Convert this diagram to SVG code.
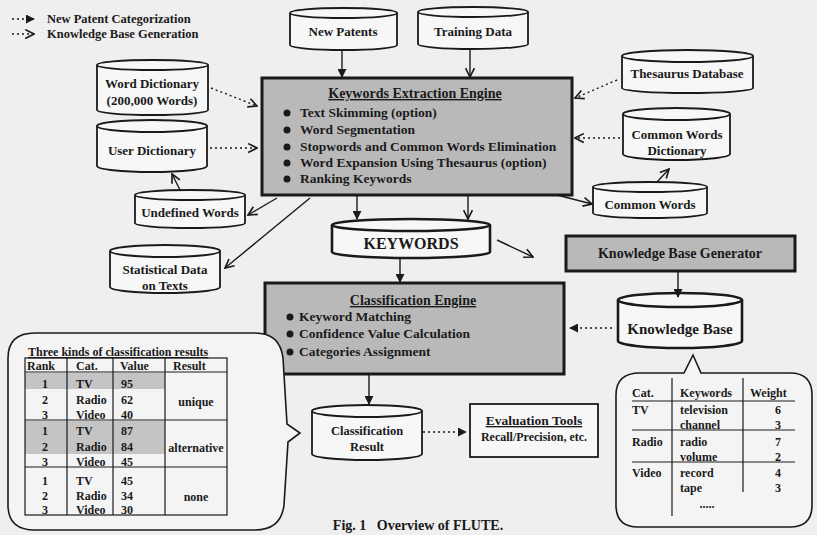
<svg xmlns="http://www.w3.org/2000/svg" width="817" height="535" viewBox="0 0 817 535">
<defs>
<style>
text{font-family:"Liberation Serif","Times New Roman",serif;font-weight:bold;fill:#1a1a1a}
.cyl{fill:#f7f7f7;stroke:#1a1a1a;stroke-width:1.8}
.cylf{fill:none;stroke:#1a1a1a;stroke-width:1.8}
.eng{fill:#b9b9b9;stroke:#1a1a1a;stroke-width:3}
.ln{fill:none;stroke:#1a1a1a;stroke-width:1.4}
.dot{fill:none;stroke:#1a1a1a;stroke-width:1.4;stroke-dasharray:2,3}
.tl{fill:none;stroke:#1a1a1a;stroke-width:1.2}
.c{text-anchor:middle}
.lbl{font-size:13px}
.bul{font-size:13.5px}
.tb{font-size:12px}
</style>
<marker id="af" viewBox="0 0 10 10" refX="9" refY="5" markerWidth="9" markerHeight="9" markerUnits="userSpaceOnUse" orient="auto"><path d="M0,0 L10,5 L0,10 z" fill="#1a1a1a"/></marker>
<marker id="ao" viewBox="0 0 10 10" refX="9" refY="5" markerWidth="11" markerHeight="11" markerUnits="userSpaceOnUse" orient="auto"><path d="M1,1 L9,5 L1,9" fill="none" stroke="#1a1a1a" stroke-width="1.5"/></marker>
</defs>
<rect x="0" y="0" width="817" height="535" fill="#efefef"/>

<g id="legend">
<line class="dot" x1="12" y1="19" x2="34" y2="19" marker-end="url(#af)"/>
<text x="47" y="23" style="font-size:12.5px">New Patent Categorization</text>
<line class="dot" x1="12" y1="34" x2="34" y2="34" marker-end="url(#ao)"/>
<text x="47" y="38" style="font-size:12.5px">Knowledge Base Generation</text>
</g>

<g id="new-patents">
<path class="cyl" d="M290,13 A53.5,5 0 0 1 397,13 V45 A53.5,5 0 0 1 290,45 Z"/>
<path class="cylf" d="M290,13 A53.5,5 0 0 0 397,13"/>
<text class="c lbl" x="343" y="36">New Patents</text>
</g>
<g id="training-data">
<path class="cyl" d="M418,12 A55,5 0 0 1 528,12 V44 A55,5 0 0 1 418,44 Z"/>
<path class="cylf" d="M418,12 A55,5 0 0 0 528,12"/>
<text class="c lbl" x="473" y="36">Training Data</text>
</g>

<g id="word-dictionary">
<path class="cyl" d="M97,65 A55.5,5 0 0 1 208,65 V110 A55.5,5 0 0 1 97,110 Z"/>
<path class="cylf" d="M97,65 A55.5,5 0 0 0 208,65"/>
<text class="c lbl" x="152" y="88">Word Dictionary</text>
<text class="c lbl" x="152" y="105">(200,000 Words)</text>
</g>
<g id="user-dictionary">
<path class="cyl" d="M97,126 A55,6 0 0 1 207,126 V166 A55,6 0 0 1 97,166 Z"/>
<path class="cylf" d="M97,126 A55,6 0 0 0 207,126"/>
<text class="c lbl" x="152" y="155">User Dictionary</text>
</g>
<g id="undefined-words">
<path class="cyl" d="M135,195 A55,5 0 0 1 245,195 V223 A55,5 0 0 1 135,223 Z"/>
<path class="cylf" d="M135,195 A55,5 0 0 0 245,195"/>
<text class="c lbl" x="190" y="217">Undefined Words</text>
</g>
<g id="statistical-data">
<path class="cyl" d="M110,251 A55,6 0 0 1 220,251 V287 A55,6 0 0 1 110,287 Z"/>
<path class="cylf" d="M110,251 A55,6 0 0 0 220,251"/>
<text class="c lbl" x="165" y="274">Statistical Data</text>
<text class="c lbl" x="165" y="290">on Texts</text>
</g>

<g id="thesaurus-database">
<path class="cyl" d="M622,56 A65.5,6 0 0 1 753,56 V88 A65.5,5 0 0 1 622,88 Z"/>
<path class="cylf" d="M622,56 A65.5,6 0 0 0 753,56"/>
<text class="c lbl" x="687" y="78">Thesaurus Database</text>
</g>
<g id="common-words-dictionary">
<path class="cyl" d="M623,114 A53.5,6 0 0 1 730,114 V154 A53.5,6 0 0 1 623,154 Z"/>
<path class="cylf" d="M623,114 A53.5,6 0 0 0 730,114"/>
<text class="c lbl" x="677" y="139">Common Words</text>
<text class="c lbl" x="677" y="155">Dictionary</text>
</g>
<g id="common-words">
<path class="cyl" d="M593,187 A57,5 0 0 1 707,187 V213 A57,5 0 0 1 593,213 Z"/>
<path class="cylf" d="M593,187 A57,5 0 0 0 707,187"/>
<text class="c lbl" x="650" y="209">Common Words</text>
</g>

<g id="keywords-extraction-engine">
<rect class="eng" x="262" y="78" width="310" height="117"/>
<text class="c" x="415" y="98" style="font-size:14px;text-decoration:underline">Keywords Extraction Engine</text>
<circle cx="287" cy="113" r="3.5" fill="#1a1a1a"/>
<circle cx="287" cy="130" r="3.5" fill="#1a1a1a"/>
<circle cx="287" cy="147" r="3.5" fill="#1a1a1a"/>
<circle cx="287" cy="163" r="3.5" fill="#1a1a1a"/>
<circle cx="287" cy="179" r="3.5" fill="#1a1a1a"/>
<text class="bul" x="300" y="117">Text Skimming (option)</text>
<text class="bul" x="300" y="134">Word Segmentation</text>
<text class="bul" x="300" y="151">Stopwords and Common Words Elimination</text>
<text class="bul" x="300" y="167">Word Expansion Using Thesaurus (option)</text>
<text class="bul" x="300" y="183">Ranking Keywords</text>
</g>

<g id="keywords">
<path class="cyl" style="stroke-width:2.6" d="M332,225 A79,6 0 0 1 490,225 V252 A79,6 0 0 1 332,252 Z"/>
<path class="cylf" style="stroke-width:2.6" d="M332,225 A79,6 0 0 0 490,225"/>
<text class="c" x="411" y="249" style="font-size:16px">KEYWORDS</text>
</g>

<g id="knowledge-base-generator">
<rect class="eng" x="566" y="236" width="229" height="35"/>
<text class="c" x="680" y="258" style="font-size:14px">Knowledge Base Generator</text>
</g>

<g id="classification-engine">
<rect class="eng" x="265" y="283" width="299" height="91"/>
<text class="c" x="413" y="305" style="font-size:14px;text-decoration:underline">Classification Engine</text>
<circle cx="290" cy="317" r="3.5" fill="#1a1a1a"/>
<circle cx="290" cy="334" r="3.5" fill="#1a1a1a"/>
<circle cx="290" cy="352" r="3.5" fill="#1a1a1a"/>
<text class="bul" x="299" y="321">Keyword Matching</text>
<text class="bul" x="299" y="338">Confidence Value Calculation</text>
<text class="bul" x="299" y="356">Categories Assignment</text>
</g>

<g id="knowledge-base">
<path class="cyl" style="stroke-width:2.6" d="M618,300 A62,7 0 0 1 742,300 V341 A62,7 0 0 1 618,341 Z"/>
<path class="cylf" style="stroke-width:2.6" d="M618,300 A62,7 0 0 0 742,300"/>
<text class="c" x="680" y="334" style="font-size:15px">Knowledge Base</text>
</g>

<g id="classification-result">
<path class="cyl" d="M312,411 A55,6 0 0 1 422,411 V454 A55,6 0 0 1 312,454 Z"/>
<path class="cylf" d="M312,411 A55,6 0 0 0 422,411"/>
<text class="c" x="367" y="435" style="font-size:12.5px">Classification</text>
<text class="c" x="367" y="451" style="font-size:12.5px">Result</text>
</g>

<g id="evaluation-tools">
<rect x="470" y="404" width="128" height="53" fill="#f7f7f7" stroke="#1a1a1a" stroke-width="1.8"/>
<text class="c" x="534" y="425" style="font-size:13.5px;text-decoration:underline">Evaluation Tools</text>
<text class="c" x="534" y="441" style="font-size:12px">Recall/Precision, etc.</text>
</g>

<g id="classification-results-callout">
<path fill="#f4f4f4" stroke="#1a1a1a" stroke-width="1.6" d="M35,333 H255 Q280,333 283,358 L287,424 L300,433 L288,442 L284,505 Q281,530 255,530 H35 Q8,530 8,505 V358 Q8,333 35,333 Z"/>
<text class="tb" x="28" y="356" style="text-decoration:underline">Three kinds of classification results</text>
<rect x="25" y="373" width="140" height="16" fill="#c4c4c4"/>
<rect x="25" y="421" width="140" height="33" fill="#c4c4c4"/>
<rect class="tl" x="25" y="358" width="202" height="157"/>
<line class="tl" x1="67" y1="358" x2="67" y2="515"/>
<line class="tl" x1="113" y1="358" x2="113" y2="515"/>
<line class="tl" x1="165" y1="358" x2="165" y2="515"/>
<line class="tl" x1="25" y1="372" x2="227" y2="372"/>
<line class="tl" x1="25" y1="420" x2="227" y2="420"/>
<line class="tl" x1="25" y1="467" x2="227" y2="467"/>
<text class="tb" x="27" y="370">Rank</text>
<text class="tb" x="76" y="370">Cat.</text>
<text class="tb" x="120" y="370">Value</text>
<text class="tb" x="173" y="370">Result</text>
<g class="tb">
<text class="tb c" x="45" y="388">1</text><text class="tb" x="76" y="388">TV</text><text class="tb" x="121" y="388">95</text>
<text class="tb c" x="45" y="404">2</text><text class="tb" x="76" y="404">Radio</text><text class="tb" x="121" y="404">62</text>
<text class="tb c" x="45" y="419">3</text><text class="tb" x="76" y="419">Video</text><text class="tb" x="121" y="419">40</text>
<text class="tb c" x="45" y="435">1</text><text class="tb" x="76" y="435">TV</text><text class="tb" x="121" y="435">87</text>
<text class="tb c" x="45" y="451">2</text><text class="tb" x="76" y="451">Radio</text><text class="tb" x="121" y="451">84</text>
<text class="tb c" x="45" y="466">3</text><text class="tb" x="76" y="466">Video</text><text class="tb" x="121" y="466">45</text>
<text class="tb c" x="45" y="485">1</text><text class="tb" x="76" y="485">TV</text><text class="tb" x="121" y="485">45</text>
<text class="tb c" x="45" y="500">2</text><text class="tb" x="76" y="500">Radio</text><text class="tb" x="121" y="500">34</text>
<text class="tb c" x="45" y="514">3</text><text class="tb" x="76" y="514">Video</text><text class="tb" x="121" y="514">30</text>
</g>
<text class="tb c" x="196" y="406">unique</text>
<text class="tb c" x="196" y="452">alternative</text>
<text class="tb c" x="196" y="501">none</text>
</g>

<g id="knowledge-base-callout">
<path fill="#f4f4f4" stroke="#1a1a1a" stroke-width="1.6" d="M640,373 H684 L693,355 L701,373 H790 Q812,373 812,395 V505 Q812,527 790,527 H638 Q616,527 616,505 V395 Q616,373 640,373 Z"/>
<line class="tl" x1="632" y1="401" x2="795" y2="401"/>
<line class="tl" x1="632" y1="430" x2="795" y2="430"/>
<line class="tl" x1="632" y1="462" x2="795" y2="462"/>
<line class="tl" x1="672" y1="378" x2="672" y2="516"/>
<line class="tl" x1="743" y1="378" x2="743" y2="492"/>
<text class="tb" x="632" y="397">Cat.</text>
<text class="tb" x="680" y="397">Keywords</text>
<text class="tb" x="750" y="397">Weight</text>
<text class="tb" x="632" y="414">TV</text><text class="tb" x="680" y="414">television</text><text class="tb c" x="778" y="414">6</text>
<text class="tb" x="680" y="429">channel</text><text class="tb c" x="778" y="429">3</text>
<text class="tb" x="632" y="446">Radio</text><text class="tb" x="680" y="446">radio</text><text class="tb c" x="778" y="446">7</text>
<text class="tb" x="680" y="461">volume</text><text class="tb c" x="778" y="461">2</text>
<text class="tb" x="632" y="477">Video</text><text class="tb" x="680" y="477">record</text><text class="tb c" x="778" y="477">4</text>
<text class="tb" x="680" y="492">tape</text><text class="tb c" x="778" y="492">3</text>
<text class="tb c" x="707" y="508">.....</text>
</g>

<g id="connectors">
<line class="ln" x1="342" y1="50" x2="342" y2="77" marker-end="url(#af)"/>
<line class="ln" x1="470" y1="49" x2="470" y2="77" marker-end="url(#ao)"/>
<line class="dot" x1="211" y1="88" x2="257" y2="106" marker-end="url(#ao)"/>
<line class="dot" x1="210" y1="148" x2="257" y2="148" marker-end="url(#ao)"/>
<line class="ln" x1="180" y1="190" x2="172" y2="174" marker-end="url(#ao)"/>
<line class="ln" x1="277" y1="198" x2="248" y2="215" marker-end="url(#ao)"/>
<line class="ln" x1="310" y1="198" x2="225" y2="268" marker-end="url(#ao)"/>
<line class="dot" x1="617" y1="80" x2="575" y2="98" marker-end="url(#ao)"/>
<line class="dot" x1="620" y1="138" x2="575" y2="138" marker-end="url(#ao)"/>
<line class="ln" x1="557" y1="195" x2="592" y2="204" marker-end="url(#ao)"/>
<line class="ln" x1="657" y1="182" x2="669" y2="169" marker-end="url(#ao)"/>
<line class="ln" x1="357" y1="195" x2="357" y2="219" marker-end="url(#af)"/>
<line class="ln" x1="468" y1="195" x2="468" y2="219" marker-end="url(#ao)"/>
<line class="ln" x1="497" y1="240" x2="533" y2="257" marker-end="url(#ao)"/>
<line class="ln" x1="400" y1="258" x2="400" y2="282" marker-end="url(#af)"/>
<line class="ln" x1="678" y1="271" x2="678" y2="297" marker-end="url(#af)"/>
<line class="dot" x1="612" y1="328" x2="570" y2="328" marker-end="url(#af)"/>
<line class="ln" x1="369" y1="375" x2="369" y2="404" marker-end="url(#af)"/>
<line class="dot" x1="423" y1="432" x2="466" y2="432" marker-end="url(#af)"/>
</g>

<text class="c" x="418" y="530" style="font-size:14px;white-space:pre">Fig. 1   Overview of FLUTE.</text>
</svg>
